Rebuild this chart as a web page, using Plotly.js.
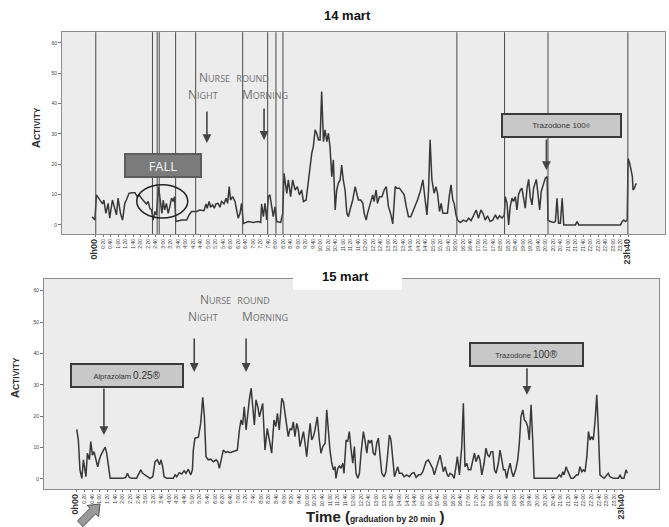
<!DOCTYPE html>
<html>
<head>
<meta charset="utf-8">
<script src="https://cdn.plot.ly/plotly-3.0.1.min.js"></script>
<style>html,body{margin:0;padding:0;background:#fff;}#chart{width:669px;height:527px;}</style>
</head>
<body>
<div id="chart"></div>
<script>
// ---- Data: 14 mart (hours since midnight, activity) ----
var hours14 = [-0.16,-0.04,0.03,0.18,0.30,0.36,0.45,0.55,0.62,0.74,0.85,0.92,0.99,1.10,1.19,1.29,1.36,1.48,1.59,1.74,1.84,1.93,2.03,2.14,2.25,2.33,2.40,2.48,2.55,2.63,2.70,2.79,2.88,2.94,3.00,3.06,3.14,3.22,3.29,3.37,3.44,3.50,3.56,3.81,4.04,4.15,4.26,4.48,4.63,4.81,4.90,4.95,5.04,5.10,5.19,5.27,5.34,5.44,5.52,5.59,5.70,5.79,5.86,5.93,5.99,6.08,6.19,6.26,6.33,6.41,6.48,6.56,6.78,7.00,7.22,7.33,7.37,7.45,7.52,7.60,7.67,7.74,7.82,7.89,7.97,8.04,8.22,8.31,8.37,
8.49,8.56,8.66,8.75,8.86,8.96,9.05,9.15,9.23,9.35,9.45,9.60,9.67,9.75,9.82,9.90,9.97,10.04,10.12,10.19,10.27,10.34,10.41,10.49,10.56,10.64,10.71,10.78,10.86,10.93,11.00,11.08,11.16,11.23,11.30,11.42,11.53,11.60,11.67,11.78,11.87,11.93,12.02,12.08,12.16,12.23,12.31,12.37,12.46,12.52,12.61,12.72,12.82,12.91,13.01,13.12,13.20,13.31,13.38,13.50,13.61,13.71,13.80,13.90,14.00,14.09,14.20,14.30,14.42,14.54,14.64,14.72,14.79,14.86,14.94,15.04,15.12,15.19,15.28,15.35,15.43,15.53,15.63,15.72,15.79,15.87,15.93,16.01,16.08,
16.20,16.35,16.47,16.57,16.68,16.79,16.91,17.01,17.12,17.21,17.31,17.41,17.53,17.65,17.76,17.86,17.95,18.06,18.16,18.20,18.28,18.35,18.42,18.50,18.57,18.65,18.72,18.79,18.87,18.94,19.02,19.09,19.17,19.24,19.31,19.39,19.46,19.58,19.66,19.73,19.80,19.91,19.98,20.06,20.10,20.20,20.35,20.43,20.50,20.57,20.65,20.73,20.80,21.32,21.39,21.47,23.32,23.40,23.47,23.55,23.62,23.66,23.73,23.79,23.85,23.88,23.94,23.99,24.03];
var activity14 = [2.7,1.6,9.9,8.2,6.9,8.2,3.8,7.1,2.2,8.2,4.9,3.3,8.8,3.8,1.6,7.1,8.2,10.4,10.6,10.6,9.3,9.9,8.8,7.7,6.9,7.7,5.5,4.9,1.6,4.4,3.3,12.6,7.1,3.8,8.2,4.9,7.1,3.8,6.0,8.8,7.7,9.3,1.1,1.6,1.6,3.3,4.4,4.4,4.9,4.7,6.9,5.5,7.7,5.8,6.6,5.5,6.9,7.1,5.8,7.7,6.9,8.8,7.1,12.6,8.2,9.3,7.7,4.9,2.2,3.8,7.1,0.5,1.1,0.8,1.1,0.8,6.9,2.7,7.1,1.6,9.3,9.9,6.0,2.7,6.0,1.1,0.8,3.8,17.0,
10.4,14.8,9.3,14.8,11.5,12.6,9.9,11.5,7.7,8.2,14.8,23.6,25.8,31.3,30.2,28.0,28.0,43.9,27.4,31.3,27.4,30.2,25.8,15.9,21.4,4.9,11.5,13.7,14.8,19.7,14.8,11.5,3.8,2.7,4.9,8.2,12.6,10.4,8.2,8.2,7.1,3.8,1.6,3.8,6.0,8.2,9.9,7.7,11.5,7.1,9.3,9.3,11.5,12.6,6.0,3.3,0.3,12.6,12.1,12.1,11.0,9.9,6.0,2.7,2.7,4.4,6.0,8.2,11.0,14.8,8.2,3.3,11.0,28.0,14.8,10.4,12.6,10.4,4.4,7.1,3.8,3.8,3.8,9.9,13.2,8.2,7.1,3.3,1.6,
0.8,1.6,1.1,2.2,1.4,3.3,4.9,2.2,4.9,3.8,1.6,3.0,1.1,1.6,3.3,1.9,3.0,2.2,3.3,9.3,7.1,0.0,6.0,8.8,7.7,9.3,4.9,9.9,11.5,12.1,8.2,5.5,12.1,15.0,9.3,6.6,12.1,15.0,9.9,4.9,11.0,13.7,15.4,15.9,1.6,1.1,0.8,1.1,8.8,0.5,0.5,8.8,0.0,0.0,1.1,0.0,0.0,1.1,1.6,1.1,1.6,21.9,20.3,18.1,15.9,11.5,12.1,13.2,13.7];

// ---- Data: 15 mart ----
var hours15 = [0.00,0.07,0.14,0.22,0.29,0.36,0.40,0.46,0.55,0.61,0.68,0.75,0.84,0.91,0.98,1.05,1.16,1.23,1.30,1.37,1.45,2.02,2.13,2.20,2.28,2.39,2.60,2.67,2.78,2.86,2.96,3.07,3.18,3.30,3.40,3.50,3.59,3.66,3.73,3.79,3.91,4.19,4.27,4.34,4.45,4.56,4.66,4.74,4.84,4.95,5.02,5.06,5.13,5.28,5.38,5.47,5.54,5.61,5.71,5.82,5.93,6.05,6.12,6.19,6.29,6.36,6.47,6.55,6.65,6.77,6.87,6.97,7.06,7.13,7.20,7.27,7.35,7.42,7.49,7.57,7.64,7.71,7.78,7.86,7.93,
8.07,8.17,8.27,8.36,8.46,8.56,8.64,8.71,8.79,8.90,8.97,9.04,9.11,9.18,9.26,9.33,9.40,9.47,9.55,9.62,9.69,9.77,9.84,9.91,9.98,10.05,10.13,10.20,10.27,10.34,10.44,10.53,10.60,10.68,10.78,10.85,10.92,10.99,11.07,11.14,11.21,11.25,11.33,11.40,11.47,11.55,11.60,11.69,11.76,11.83,11.91,11.98,12.05,12.12,12.20,12.27,12.34,12.44,12.51,12.59,12.66,12.73,12.80,12.87,12.95,13.02,13.09,13.16,13.24,13.34,13.42,13.50,13.57,13.64,13.72,13.79,13.86,13.93,14.00,14.11,14.21,14.32,14.44,14.54,14.64,14.73,14.83,14.93,15.02,15.09,15.16,15.26,15.36,15.45,15.52,15.63,15.69,15.77,15.84,15.91,15.99,16.06,16.13,16.20,16.30,16.38,16.46,16.52,
16.61,16.71,16.78,16.85,16.93,17.00,17.10,17.19,17.26,17.33,17.43,17.50,17.58,17.68,17.76,17.84,17.91,17.98,18.06,18.13,18.20,18.30,18.37,18.45,18.52,18.59,18.66,18.73,18.81,18.88,18.95,19.05,19.14,19.21,19.28,19.36,19.43,19.50,19.57,19.64,19.72,19.79,19.85,20.83,20.95,21.02,21.10,21.15,21.24,21.29,21.37,21.45,21.55,21.62,21.70,21.77,21.84,21.92,21.99,22.06,22.14,22.21,22.28,22.35,22.42,22.50,22.57,22.64,22.71,22.79,22.89,23.07,23.14,23.29,23.51,23.58,23.65,23.75,23.84,23.90];
var activity15 = [15.8,12.4,2.9,0.2,6.1,3.4,0.7,8.2,6.1,11.9,7.6,8.7,6.1,3.9,6.1,7.6,9.2,10.1,8.2,5.0,0.2,0.2,0.5,1.8,0.5,0.2,0.2,1.3,2.9,1.8,1.3,0.5,0.2,0.7,5.5,6.1,4.5,6.1,3.9,0.7,0.2,0.2,1.3,0.7,2.0,1.6,2.6,1.8,3.1,1.3,2.9,9.2,13.0,13.3,17.7,26.0,19.8,7.1,6.1,6.3,5.5,6.1,5.5,3.4,6.6,9.2,8.4,8.7,8.4,8.7,8.7,9.2,15.6,18.8,17.2,23.0,15.6,20.9,25.2,28.9,22.5,17.2,25.2,23.0,19.8,
24.1,9.2,16.1,12.4,8.2,18.8,16.7,20.9,15.6,25.7,24.6,20.9,16.7,13.5,16.1,15.6,18.2,13.5,17.7,15.6,10.3,12.4,15.1,11.4,7.1,12.4,17.7,12.4,13.5,15.6,19.8,12.4,8.2,10.3,11.4,22.0,14.6,9.2,5.0,2.9,3.9,0.2,3.4,4.1,3.4,5.0,1.8,12.4,11.9,15.1,9.2,5.0,10.3,1.8,0.2,1.8,8.2,15.1,12.4,8.2,12.4,11.4,12.4,8.2,7.6,11.4,13.0,8.2,1.8,0.7,2.3,8.2,14.0,12.4,5.0,0.7,2.3,3.9,1.8,1.8,0.7,1.3,0.7,1.8,2.0,0.5,1.3,1.3,2.3,3.9,5.5,6.1,4.5,3.4,1.3,3.9,6.1,7.6,5.0,2.3,3.9,1.8,0.7,1.8,1.3,0.2,3.9,7.1,
1.3,10.3,24.1,3.9,5.0,2.9,2.9,5.5,8.2,5.5,7.6,6.1,1.3,5.0,9.8,7.6,7.1,8.7,8.7,2.9,1.8,5.0,9.2,6.1,2.9,2.9,0.2,2.9,5.0,2.3,0.7,2.9,6.1,11.4,19.8,22.0,18.8,18.2,16.7,12.4,23.6,12.4,0.2,0.2,1.3,0.7,2.3,1.3,3.9,2.9,1.3,0.2,0.2,0.7,1.3,1.3,3.9,2.3,2.9,2.3,7.1,15.1,12.4,13.5,12.4,18.8,26.8,15.6,1.3,0.7,0.2,1.8,0.7,0.2,0.2,1.3,0.2,0.2,2.9,1.8];

// Reference lines drawn on the 14 mart panel (hours)
var refLines14 = [0, 2.52, 2.73, 2.82, 3.55, 4.44, 6.53, 7.64, 8.01, 8.32, 16.05, 18.17, 20.10, 23.65];
var yTicks = [0, 10, 20, 30, 40, 50, 60];

// x tick labels every 20 minutes
var tickHours = [], tickLabels = [];
for (var i = 0; i < 72; i++) {
  var h = Math.floor(i / 3), m = (i % 3) * 20;
  tickHours.push(i / 3);
  var lab = h + ':' + (m === 0 ? '00' : m);
  if (i === 0) lab = '<b><span style="font-size:9px">0h00</span></b>';
  if (i === 71) lab = '<b><span style="font-size:9px">23h40</span></b>';
  tickLabels.push(lab);
}

function sc(word, big, small) {
  return word.charAt(0) + '<span style="font-size:' + small + 'px">' + word.slice(1) + '</span>';
}
function allsmall(word, small) {
  return '<span style="font-size:' + small + 'px">' + word + '</span>';
}

var lineStyle = {color: '#383838', width: 1.5, shape: 'linear'};
var traces = [
  {x: hours14, y: activity14, type: 'scatter', mode: 'lines', line: lineStyle, xaxis: 'x', yaxis: 'y', hoverinfo: 'x+y'},
  {x: hours15, y: activity15, type: 'scatter', mode: 'lines', line: lineStyle, xaxis: 'x2', yaxis: 'y2', hoverinfo: 'x+y'}
];

function xax(domain, range, anchor) {
  return {domain: domain, range: range, anchor: anchor, tickmode: 'array', tickvals: tickHours, ticktext: tickLabels,
    tickangle: -90, tickfont: {size: 5, color: '#333', family: 'Liberation Sans, Arial'}, ticks: 'outside', ticklen: 2, tickcolor: '#777',
    showgrid: false, zeroline: false, showline: true, mirror: true, linecolor: '#8c8c8c', linewidth: 1};
}
function yax(domain, range, anchor) {
  return {domain: domain, range: range, anchor: anchor, tickmode: 'array', tickvals: yTicks,
    tickfont: {size: 5, color: '#444', family: 'Liberation Sans, Arial'}, ticks: 'outside', ticklen: 3, tickcolor: '#777',
    showgrid: false, zeroline: false, showline: true, mirror: true, linecolor: '#8c8c8c', linewidth: 1};
}

var shapes = refLines14.map(function (h) {
  return {type: 'line', xref: 'x', yref: 'y domain', x0: h, x1: h, y0: 0, y1: 1, line: {color: '#4a4a4a', width: 1}};
});
shapes.push({type: 'circle', xref: 'x', yref: 'y', x0: 1.82, x1: 4.09, y0: 2.3, y1: 13.2, line: {color: '#222', width: 1.5}});
// white patch behind the "15 mart" title
shapes.push({type: 'rect', xref: 'paper', yref: 'paper', x0: 0.438, x1: 0.601, y0: 0.4497, y1: 0.4915, fillcolor: '#fff', line: {width: 0}, layer: 'above'});
// grey block arrow at bottom-left
(function () {
  var pts = [[100,504],[98.6,516.8],[95.7,513.9],[83.0,526.6],[77.4,521.0],[90.1,508.3],[87.2,505.4]];
  var p = pts.map(function (q, k) { return (k ? 'L' : 'M') + (q[0] / 669).toFixed(4) + ',' + (1 - q[1] / 527).toFixed(4); }).join(' ') + ' Z';
  shapes.push({type: 'path', xref: 'paper', yref: 'paper', path: p, fillcolor: '#9a9a9a', line: {color: '#555', width: 1}});
})();

var gray = '#6f6f6f';
var nf = {family: 'Open Sans, Liberation Sans', size: 12, color: gray};
function arrow(xr, yr, x, y, ay) {
  return {xref: xr, yref: yr, x: x, y: y, ax: 0, ay: ay, text: '', showarrow: true, arrowhead: 2, arrowsize: 1.1, arrowwidth: 1.6, arrowcolor: '#444'};
}
function txt(xr, yr, x, y, t, f) {
  return {xref: xr, yref: yr, x: x, y: y, text: t, showarrow: false, font: f, xanchor: 'center', yanchor: 'middle'};
}
function ptxt(x, y, t, f, ang) {
  return {xref: 'paper', yref: 'paper', x: x, y: y, text: t, showarrow: false, font: f, xanchor: 'center', yanchor: 'middle', textangle: ang || 0};
}
function box(xr, yr, x, y, t, w, hgt, bg, bc, f) {
  return {xref: xr, yref: yr, x: x, y: y, text: t, showarrow: false, width: w, height: hgt, bgcolor: bg, bordercolor: bc, borderwidth: 2, borderpad: 0, font: f, xanchor: 'center', yanchor: 'middle'};
}

var nurseText = sc('NURSE', 12, 9) + '  ' + allsmall('ROUND', 9);
var titleFont = {family: 'Liberation Sans, Arial', size: 13, color: '#111'};
var yTitleFont = {family: 'Liberation Sans, Arial', size: 11, color: '#333'};
var annotations = [
  // titles
  ptxt(0.520, 0.9715, '<b>14 mart</b>', titleFont),
  ptxt(0.516, 0.4744, '<b>15 mart</b>', titleFont),
  // y titles
  ptxt(0.0538, 0.759, '<b>' + sc('ACTIVITY', 11, 8.5) + '</b>', yTitleFont, -90),
  ptxt(0.0224, 0.2846, '<b>' + sc('ACTIVITY', 11, 8.5) + '</b>', yTitleFont, -90),
  // x title
  ptxt(0.562, 0.019, '<b>Time (<span style="font-size:8.5px">graduation by 20 min</span> )</b>', {family: 'Liberation Sans, Arial', size: 15, color: '#222'}),
  // 14 mart annotations
  txt('x', 'y', 6.14, 48.7, nurseText, nf),
  txt('x', 'y', 4.76, 43.1, sc('NIGHT', 12, 9), nf),
  txt('x', 'y', 7.54, 43.1, sc('MORNING', 12, 9), nf),
  arrow('x', 'y', 4.94, 27.0, -33),
  arrow('x', 'y', 7.48, 28.0, -33),
  box('x', 'y', 3.00, 19.7, 'FALL', 74, 21, '#7b7b7b', '#5c5c5c', {family: 'Open Sans, Liberation Sans', size: 13, color: '#f2f2f2'}),
  box('x', 'y', 20.71, 32.7, 'Trazodone 100<span style="font-size:6px">®</span>', 117, 21, '#c8c8c8', '#3a3a3a', {family: 'Liberation Sans, Arial', size: 8, color: '#333'}),
  arrow('x', 'y', 20.03, 18.1, -32),
  // 15 mart annotations
  txt('x2', 'y2', 6.87, 57.3, nurseText, nf),
  txt('x2', 'y2', 5.48, 51.6, sc('NIGHT', 12, 9), nf),
  txt('x2', 'y2', 8.19, 51.6, sc('MORNING', 12, 9), nf),
  arrow('x2', 'y2', 5.10, 34.1, -35),
  arrow('x2', 'y2', 7.35, 34.1, -35),
  box('x2', 'y2', 2.20, 33.1, 'Alprazolam <span style="font-size:10px">0.25®</span>', 110, 21, '#c8c8c8', '#3a3a3a', {family: 'Liberation Sans, Arial', size: 7.5, color: '#333'}),
  arrow('x2', 'y2', 1.18, 14.0, -48),
  box('x2', 'y2', 19.54, 39.5, 'Trazodone <span style="font-size:10px">100®</span>', 111, 21, '#c8c8c8', '#3a3a3a', {family: 'Liberation Sans, Arial', size: 7.5, color: '#333'}),
  arrow('x2', 'y2', 19.54, 26.8, -28)
];

var layout = {
  width: 669, height: 527, autosize: false,
  margin: {l: 0, r: 0, t: 0, b: 0, pad: 0},
  paper_bgcolor: '#ffffff', plot_bgcolor: '#ececec',
  showlegend: false,
  font: {family: 'Liberation Sans, Arial', color: '#333'},
  xaxis: xax([0.0927, 0.994], [-1.5, 25.3], 'y'),
  yaxis: yax([0.556, 0.939], [-3, 63.5], 'x'),
  xaxis2: xax([0.0658, 0.985], [-1.42, 25.27], 'y2'),
  yaxis2: yax([0.0721, 0.4706], [-3.2, 63.7], 'x2'),
  shapes: shapes,
  annotations: annotations
};

Plotly.newPlot('chart', traces, layout, {displayModeBar: false, staticPlot: true});
</script>
</body>
</html>
